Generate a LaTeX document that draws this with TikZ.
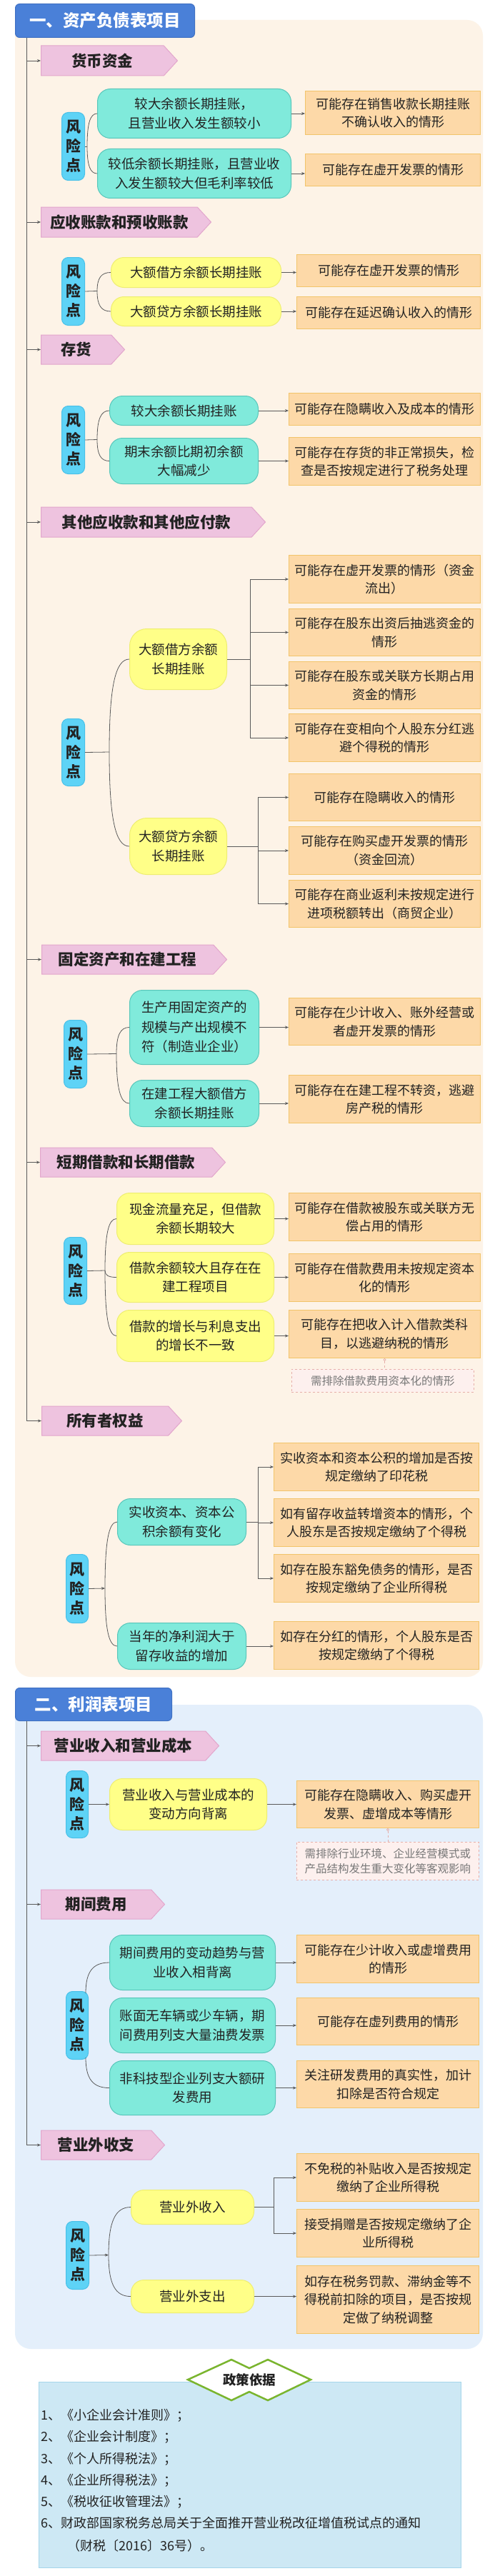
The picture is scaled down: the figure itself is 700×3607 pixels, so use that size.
\documentclass[tikz,border=0pt]{standalone}
\usepackage{fontspec}
\setmainfont{Noto Sans CJK SC}
\usetikzlibrary{shapes.symbols,arrows.meta,calc}
\definecolor{titleblue}{HTML}{4A80D8}
\definecolor{titleborder}{HTML}{3F70C2}
\definecolor{peach}{HTML}{FDF3E7}
\definecolor{lblue}{HTML}{E4EFFB}
\definecolor{tagfill}{HTML}{EEC3DF}
\definecolor{tagdraw}{HTML}{E2A6CC}
\definecolor{riskfill}{HTML}{5ED3F6}
\definecolor{riskdraw}{HTML}{48C0E8}
\definecolor{tealfill}{HTML}{80EADB}
\definecolor{tealdraw}{HTML}{58C6BA}
\definecolor{yelfill}{HTML}{FFFF88}
\definecolor{yeldraw}{HTML}{EEEE70}
\definecolor{resfill}{HTML}{FDD9A8}
\definecolor{resdraw}{HTML}{F2C46A}
\definecolor{notefill}{HTML}{FDF0EE}
\definecolor{notedraw}{HTML}{E6AFAA}
\definecolor{notetext}{HTML}{777777}
\definecolor{polfill}{HTML}{CDE8F4}
\definecolor{poldraw}{HTML}{A5D5EA}
\definecolor{polgreen}{HTML}{7AB52E}
\definecolor{linec}{HTML}{5A5A5A}
\definecolor{txt}{HTML}{222222}
\newcommand\brc[2]{\draw[ln] (#1) .. controls ($(#1)!0.7!(#1 |- #2)$) and ($(#2)!0.7!(#1 |- #2)$) .. (#2);}
\begin{document}
\begin{tikzpicture}[x=1pt,y=-1pt,
  wh/.style 2 args={minimum width=#1pt,minimum height=#2pt},
  box/.style={anchor=north west, inner sep=2pt, align=center, text=txt, line width=1pt, font=\fontsize{18}{25.5}\selectfont},
  res/.style={box, fill=resfill, draw=resdraw},
  teal/.style={box, fill=tealfill, draw=tealdraw, rounded corners=18pt, font=\fontsize{18.5}{26.5}\selectfont},
  yel/.style={box, fill=yelfill, draw=yeldraw, rounded corners=18pt, font=\fontsize{18.5}{26.5}\selectfont},
  risk/.style={box, fill=riskfill, draw=riskdraw, rounded corners=9pt, inner sep=0pt, font=\bfseries\fontsize{21}{27}\selectfont},
  note/.style={box, fill=notefill, draw=notedraw, dashed, line width=0.8pt, text=notetext, font=\fontsize{15.5}{21}\selectfont},
  tag/.style={shape=signal, signal to=east, signal pointer angle=95, fill=tagfill, draw=tagdraw, line width=1pt, anchor=west, inner sep=2pt, text=txt, font=\bfseries\fontsize{21.5}{26}\selectfont},
  title/.style={anchor=north west, fill=titleblue, draw=titleborder, rounded corners=6pt, text=white, line width=1pt, font=\bfseries\fontsize{23.5}{28}\selectfont},
  ln/.style={draw=linec, line width=0.8pt},
  arr/.style={ln, -{Stealth[length=5pt,width=4pt]}},
  notecon/.style={draw=notedraw, dashed, line width=0.8pt, {Circle[open,length=4pt,width=4pt]}-},
  pline/.style={anchor=west, inner sep=0pt, text=txt, font=\fontsize{18}{22}\selectfont}
]
\useasboundingbox (0,0) rectangle (700,3607);
\fill[white] (0,0) rectangle (700,3607);
% panels
\fill[peach, rounded corners=22pt] (21,28) rectangle (676,2348);
\fill[lblue, rounded corners=22pt] (21,2387) rectangle (676,3289);
% ===== title 1
\node[title, wh={251}{47}] (T1) at (21,5) {一、资产负债表项目};
\coordinate (tr1) at (37,0);
% tags
\node[tag, wh={191}{42}] (t1) at (57,85) {货币资金};
\node[tag, wh={238}{42}] (t2) at (57,311) {应收账款和预收账款};
\node[tag, wh={117}{41}] (t3) at (57,489.5) {存货};
\node[tag, wh={314}{42}] (t4) at (57,731) {其他应收款和其他应付款};
\node[tag, wh={259}{41}] (t5) at (58,1343.5) {固定资产和在建工程};
\node[tag, wh={259}{41}] (t6) at (56,1627.5) {短期借款和长期借款};
\node[tag, wh={196}{41}] (t7) at (58,1989.5) {所有者权益};
\draw[ln] (tr1 |- T1.south) -- (tr1 |- t7.west);
\foreach \t in {t1,t2,t3,t4,t5,t6,t7} \draw[arr] (tr1 |- \t.west) -- (\t.west);
% ===== section 1 货币资金
\node[risk, wh={32}{95}] (r1) at (86,157) {风\\险\\点};
\node[teal, wh={271}{69}] (a1) at (136,124) {较大余额长期挂账，\\且营业收入发生额较小};
\node[teal, wh={271}{69}] (a2) at (136,208) {较低余额长期挂账，且营业收\\入发生额较大但毛利率较低};
\node[res, wh={245}{61}] (a1r) at (427,127) {可能存在销售收款长期挂账\\不确认收入的情形};
\node[res, wh={245}{45}] (a2r) at (427,215) {可能存在虚开发票的情形};
\coordinate (j1) at ($(r1.east)+(3,0)$);
\draw[ln] (r1.east) -- (j1);
\brc{j1}{a1.west} \brc{j1}{a2.west}
\draw[arr] (a1.east) -- (a1.east -| a1r.west);
\draw[arr] (a2.east) -- (a2.east -| a2r.west);
% ===== section 2 应收
\node[risk, wh={32}{95}] (r2) at (86,360) {风\\险\\点};
\node[yel, wh={238}{42}] (b1) at (155,360) {大额借方余额长期挂账};
\node[yel, wh={238}{41}] (b2) at (155,415) {大额贷方余额长期挂账};
\node[res, wh={257}{45}] (b1r) at (415,356) {可能存在虚开发票的情形};
\node[res, wh={257}{45}] (b2r) at (415,415) {可能存在延迟确认收入的情形};
\coordinate (j2) at (136,407.5);
\draw[ln] (r2.east) -- (j2);
\brc{j2}{b1.west} \brc{j2}{b2.west}
\draw[arr] (b1.east) -- (b1.east -| b1r.west);
\draw[arr] (b2.east) -- (b2.east -| b2r.west);
% ===== section 3 存货
\node[risk, wh={32}{95}] (r3) at (86,568) {风\\险\\点};
\node[teal, wh={208}{41}] (c1) at (153,554) {较大余额长期挂账};
\node[teal, wh={208}{64}] (c2) at (153,613) {期末余额比期初余额\\大幅减少};
\node[res, wh={268}{45}] (c1r) at (404,550) {可能存在隐瞒收入及成本的情形};
\node[res, wh={268}{67}] (c2r) at (404,612) {可能存在存货的非正常损失，检\\查是否按规定进行了税务处理};
\coordinate (j3) at (136,615.5);
\draw[ln] (r3.east) -- (j3);
\brc{j3}{c1.west} \brc{j3}{c2.west}
\draw[arr] (c1.east) -- (c1.east -| c1r.west);
\draw[arr] (c2.east) -- (c2.east -| c2r.west);
% ===== section 4 其他
\node[risk, wh={32}{94}] (r4) at (86,1006) {风\\险\\点};
\node[yel, wh={136}{85}, rounded corners=24pt] (d1) at (181,880) {大额借方余额\\长期挂账};
\node[yel, wh={136}{79}, rounded corners=24pt] (d2) at (181,1145) {大额贷方余额\\长期挂账};
\node[res, wh={268}{67}] (d1r1) at (404,777) {可能存在虚开发票的情形（资金\\流出）};
\node[res, wh={268}{66}] (d1r2) at (404,852) {可能存在股东出资后抽逃资金的\\情形};
\node[res, wh={268}{66}] (d1r3) at (404,926) {可能存在股东或关联方长期占用\\资金的情形};
\node[res, wh={268}{67}] (d1r4) at (404,999) {可能存在变相向个人股东分红逃\\避个得税的情形};
\node[res, wh={268}{66}] (d2r1) at (404,1083) {可能存在隐瞒收入的情形};
\node[res, wh={268}{67}] (d2r2) at (404,1157) {可能存在购买虚开发票的情形\\（资金回流）};
\node[res, wh={268}{66}] (d2r3) at (404,1232) {可能存在商业返利未按规定进行\\进项税额转出（商贸企业）};
\coordinate (j4) at (153,1053);
\draw[ln] (r4.east) -- (j4);
\brc{j4}{d1.west} \brc{j4}{d2.west}
\coordinate (busA) at (350,0);
\coordinate (busB) at (361,0);
\draw[ln] (d1.east) -- (d1.east -| busA);
\draw[ln] (busA |- d1r1.west) -- (busA |- d1r4.west);
\foreach \r in {d1r1,d1r2,d1r3,d1r4} \draw[arr] (busA |- \r.west) -- (\r.west);
\draw[ln] (d2.east) -- (d2.east -| busB);
\draw[ln] (busB |- d2r1.west) -- (busB |- d2r3.west);
\foreach \r in {d2r1,d2r2,d2r3} \draw[arr] (busB |- \r.west) -- (\r.west);
% ===== section 5 固定资产
\node[risk, wh={32}{95}] (r5) at (89,1428) {风\\险\\点};
\node[teal, wh={181}{104}, align=left, font=\fontsize{18.5}{27.5}\selectfont] (e1) at (181,1386) {生产用固定资产的\\规模与产出规模不\\符（制造业企业）};
\node[teal, wh={181}{65}] (e2) at (181,1512) {在建工程大额借方\\余额长期挂账};
\node[res, wh={268}{66}] (e1r) at (404,1397) {可能存在少计收入、账外经营或\\者虚开发票的情形};
\node[res, wh={268}{67}] (e2r) at (404,1505) {可能存在在建工程不转资，逃避\\房产税的情形};
\coordinate (j5) at (163,1475.5);
\draw[ln] (r5.east) -- (j5);
\brc{j5}{e1.west} \brc{j5}{e2.west}
\draw[arr] (e1.east) -- (e1.east -| e1r.west);
\draw[arr] (e2.east) -- (e2.east -| e2r.west);
% ===== section 6 借款
\node[risk, wh={32}{94}] (r6) at (89,1732) {风\\险\\点};
\node[yel, wh={220}{72}] (f1) at (163,1670) {现金流量充足，但借款\\余额长期较大};
\node[yel, wh={220}{70}] (f2) at (163,1753) {借款余额较大且存在在\\建工程项目};
\node[yel, wh={220}{72}] (f3) at (163,1834) {借款的增长与利息支出\\的增长不一致};
\node[res, wh={268}{67}] (f1r) at (404,1670) {可能存在借款被股东或关联方无\\偿占用的情形};
\node[res, wh={268}{67}] (f2r) at (404,1755) {可能存在借款费用未按规定资本\\化的情形};
\node[res, wh={268}{67}] (f3r) at (404,1834) {可能存在把收入计入借款类科\\目，以逃避纳税的情形};
\node[note, wh={255}{32}] (n1) at (408,1917) {需排除借款费用资本化的情形};
\coordinate (j6) at (147,1779);
\draw[ln] (r6.east) -- (j6);
\brc{j6}{f1.west} \brc{j6}{f2.west} \brc{j6}{f3.west}
\draw[arr] (f1.east) -- (f1.east -| f1r.west);
\draw[arr] (f2.east) -- (f2.east -| f2r.west);
\draw[arr] (f3.east) -- (f3.east -| f3r.west);
\draw[notecon] (f3r.south) -- (f3r.south |- n1.north);
% ===== section 7 所有者权益
\node[risk, wh={31}{96}] (r7) at (92,2176) {风\\险\\点};
\node[teal, wh={180}{65}] (g1) at (164,2098) {实收资本、资本公\\积余额有变化};
\node[teal, wh={180}{65}] (g2) at (164,2272) {当年的净利润大于\\留存收益的增加};
\node[res, wh={287}{67}] (g1r1) at (383,2020) {实收资本和资本公积的增加是否按\\规定缴纳了印花税};
\node[res, wh={287}{67}] (g1r2) at (383,2098) {如有留存收益转增资本的情形，个\\人股东是否按规定缴纳了个得税};
\node[res, wh={287}{67}] (g1r3) at (383,2176) {如存在股东豁免债务的情形，是否\\按规定缴纳了企业所得税};
\node[res, wh={287}{67}] (g2r) at (383,2270) {如存在分红的情形，个人股东是否\\按规定缴纳了个得税};
\coordinate (j7) at (147,2224);
\draw[arr] (r7.east) -- (j7);
\brc{j7}{g1.west} \brc{j7}{g2.west}
\coordinate (busC) at (361,0);
\draw[ln] (g1.east) -- (g1.east -| busC);
\draw[ln] (busC |- g1r1.west) -- (busC |- g1r3.west);
\foreach \r in {g1r1,g1r2,g1r3} \draw[arr] (busC |- \r.west) -- (\r.west);
\draw[arr] (g2.east) -- (g2.east -| g2r.west);
% ===== title 2
\node[title, wh={219}{46}] (T2) at (21,2363) {二、利润表项目};
\coordinate (tr2) at (37,0);
\node[tag, wh={249}{41}] (t8) at (57,2444.5) {营业收入和营业成本};
\node[tag, wh={173}{41}] (t9) at (57,2666.5) {期间费用};
\node[tag, wh={173}{41}] (t10) at (57,3003.5) {营业外收支};
\draw[ln] (tr2 |- T2.south) -- (tr2 |- t10.west);
\foreach \t in {t8,t9,t10} \draw[arr] (tr2 |- \t.west) -- (\t.west);
% ===== section 8
\node[risk, wh={31}{94}] (r8) at (92,2479) {风\\险\\点};
\node[yel, wh={220}{72}] (h1) at (153,2490) {营业收入与营业成本的\\变动方向背离};
\node[res, wh={255}{66}] (h1r) at (415,2493) {可能存在隐瞒收入、购买虚开\\发票、虚增成本等情形};
\node[note, wh={255}{53}] (n2) at (415,2579) {需排除行业环境、企业经营模式或\\产品结构发生重大变化等客观影响};
\draw[arr] (r8.east) -- (r8.east -| h1.west);
\draw[arr] (h1.east) -- (h1.east -| h1r.west);
\draw[notecon] (h1r.south) -- (h1r.south |- n2.north);
% ===== section 9
\node[risk, wh={31}{95}] (r9) at (92,2788) {风\\险\\点};
\node[teal, wh={232}{77}] (i1) at (153,2709) {期间费用的变动趋势与营\\业收入相背离};
\node[teal, wh={232}{77}] (i2) at (153,2797) {账面无车辆或少车辆，期\\间费用列支大量油费发票};
\node[teal, wh={232}{76}] (i3) at (153,2885) {非科技型企业列支大额研\\发费用};
\node[res, wh={255}{67}] (i1r) at (415,2709) {可能存在少计收入或虚增费用\\的情形};
\node[res, wh={255}{66}] (i2r) at (415,2797) {可能存在虚列费用的情形};
\node[res, wh={255}{66}] (i3r) at (415,2885) {关注研发费用的真实性，加计\\扣除是否符合规定};
\coordinate (j9a) at ($(r9.north east)+(-4,3)$);
\coordinate (j9b) at ($(r9.south east)+(-4,-3)$);
\brc{j9a}{i1.west} \brc{j9b}{i3.west}
\draw[arr] (i1.east) -- (i1.east -| i1r.west);
\draw[arr] (i2.east) -- (i2.east -| i2r.west);
\draw[arr] (i3.east) -- (i3.east -| i3r.west);
% ===== section 10
\node[risk, wh={32}{95}] (r10) at (92,3110) {风\\险\\点};
\node[yel, wh={172}{48}] (k1) at (183,3066) {营业外收入};
\node[yel, wh={172}{46}] (k2) at (183,3192) {营业外支出};
\node[res, wh={255}{67}] (k1r1) at (415,3015) {不免税的补贴收入是否按规定\\缴纳了企业所得税};
\node[res, wh={255}{67}] (k1r2) at (415,3093) {接受捐赠是否按规定缴纳了企\\业所得税};
\node[res, wh={255}{95}] (k2r) at (415,3172) {如存在税务罚款、滞纳金等不\\得税前扣除的项目，是否按规\\定做了纳税调整};
\coordinate (j10) at (152,3157.5);
\draw[arr] (r10.east) -- (j10);
\brc{j10}{k1.west} \brc{j10}{k2.west}
\coordinate (busD) at (383,0);
\draw[ln] (k1.east) -- (k1.east -| busD);
\draw[ln] (busD |- k1r1.west) -- (busD |- k1r2.west);
\foreach \r in {k1r1,k1r2} \draw[arr] (busD |- \r.west) -- (\r.west);
\draw[arr] (k2.east) -- (k2.east -| k2r.west);
% ===== policy
\node[anchor=north west, fill=polfill, draw=poldraw, line width=1pt, wh={591}{260}] (pbox) at (54,3335) {};
\draw[polgreen, fill=white, line width=2.5pt, line join=miter] (263,3332) -- (324,3304) -- (349,3316) -- (375,3304) -- (435,3332) -- (375,3361) -- (349,3349) -- (324,3361) -- cycle;
\node[inner sep=0pt, text=txt, font=\bfseries\fontsize{18.5}{22}\selectfont] (plabel) at (349,3332) {政策依据};
\node[pline] (p1) at (57,3382) {1、《小企业会计准则》；};
\node[pline] (p2) at (57,3412) {2、《企业会计制度》；};
\node[pline] (p3) at (57,3443) {3、《个人所得税法》；};
\node[pline] (p4) at (57,3473) {4、《企业所得税法》；};
\node[pline] (p5) at (57,3503) {5、《税收征收管理法》；};
\node[pline] (p6) at (57,3533) {6、财政部国家税务总局关于全面推开营业税改征增值税试点的通知};
\node[pline] (p7) at (94,3565) {（财税〔2016〕36号）。};
\end{tikzpicture}
\end{document}
